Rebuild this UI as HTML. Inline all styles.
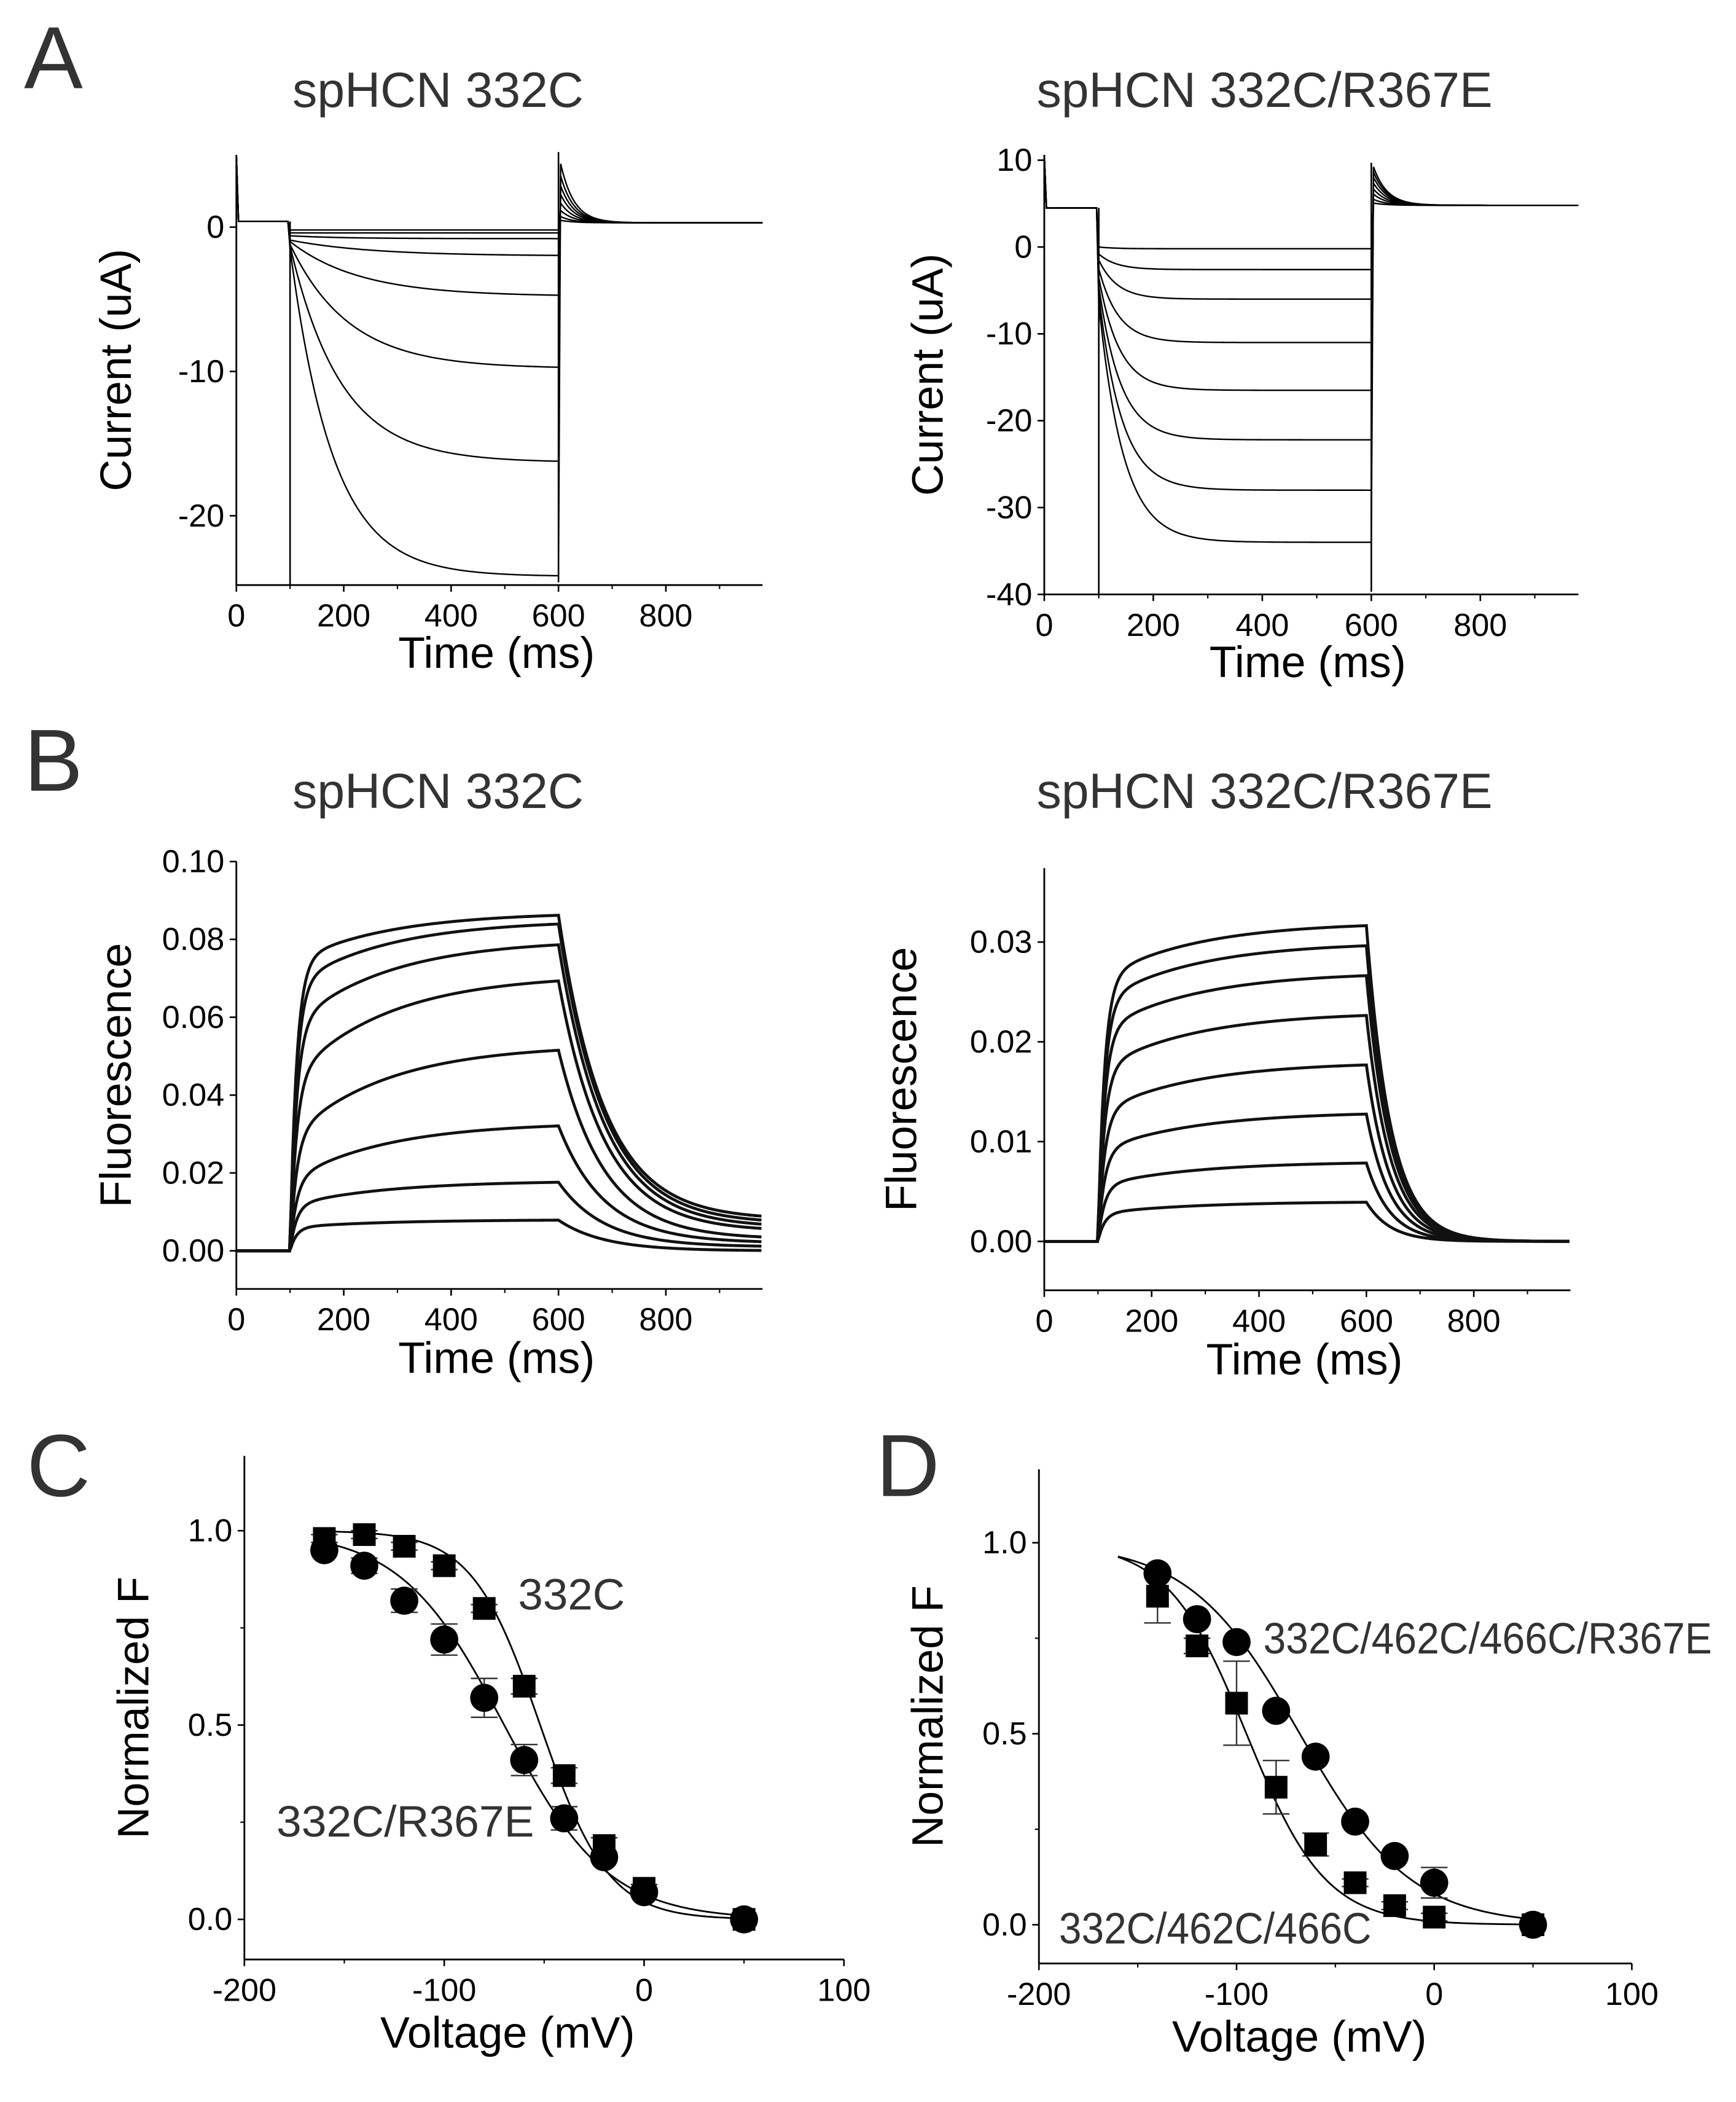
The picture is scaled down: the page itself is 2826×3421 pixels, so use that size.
<!DOCTYPE html>
<html><head><meta charset="utf-8">
<style>
html,body{margin:0;padding:0;background:#fff;}
svg{display:block;}
text{font-family:"Liberation Sans",Arial,sans-serif;}
</style></head>
<body>
<svg id="fig" xmlns="http://www.w3.org/2000/svg" width="2826" height="3421" viewBox="0 0 1300 1573.7">
<rect width="1300" height="1573.7" fill="#fff"/>
</svg>
<script>
// ---------- data ----------
const aL_ss   = [-0.2,-0.4,-0.8,-2.0,-4.8,-9.8,-16.3,-24.2];
const aL_init = [-0.2,-0.4,-0.6,-0.9,-1.0,-1.2,-1.3,-1.5];
const aL_tau  = [80,80,100,150,130,110,95,80];
const aL_tail = [0.2,0.5,1.0,1.6,2.3,3.0,3.8,4.8];
const aR_ss   = [-0.2,-2.6,-6.0,-11.0,-16.5,-22.2,-28.0,-34.0];
const aR_init = [0,-0.8,-1.5,-2.5,-3.5,-4.5,-5.5,-6.5];
const aR_tau  = [30,32,34,36,38,40,42,45];
const aR_tail = [0.3,0.8,1.5,2.2,3.0,3.8,4.5,5.2];
const bL_ss   = [0.008,0.018,0.033,0.053,0.071,0.080,0.085,0.087];
const bL_fast = [0.75,0.65,0.55,0.55,0.62,0.72,0.80,0.85];
const bL_end  = [0.000,0.001,0.002,0.003,0.005,0.006,0.007,0.008];
const bR_ss   = [0.004,0.008,0.013,0.018,0.023,0.027,0.030,0.032];
const bR_fast = [0.7,0.7,0.7,0.72,0.75,0.78,0.8,0.82];
const cV      = [-160,-140,-120,-100,-80,-60,-40,-20,0,50];
const cSq     = [0.98,0.99,0.96,0.91,0.80,0.60,0.37,0.19,0.08,0.0];
const cSqErr  = [0.01,0.01,0.01,0.01,0.01,0.02,0.02,0.02,0.01,0];
const cCi     = [0.95,0.91,0.82,0.72,0.57,0.41,0.26,0.16,0.07,0.0];
const cCiErr  = [0.01,0.02,0.03,0.04,0.05,0.04,0.03,0.01,0.01,0];
const cFitSq  = [-52,17];
const cFitCi  = [-70,26];
const dV      = [-140,-120,-100,-80,-60,-40,-20,0,50];
const dCi     = [0.92,0.80,0.74,0.56,0.44,0.27,0.18,0.11,0.0];
const dCiErr  = [0.01,0.01,0.01,0.01,0.01,0.01,0.01,0.04,0];
const dSq     = [0.86,0.73,0.58,0.36,0.21,0.11,0.05,0.02,0.0];
const dSqErr  = [0.07,0.02,0.11,0.07,0.03,0.01,0.01,0.01,0];
const dFitCi  = [-68,28];
const dFitSq  = [-95,20];
const timeTicks = [0,200,400,600,800];

// ---------- helpers ----------
const NS='http://www.w3.org/2000/svg';
const svg=document.getElementById('fig');
function mk(tag,attrs,parent){const e=document.createElementNS(NS,tag);for(const k in attrs)e.setAttribute(k,attrs[k]);(parent||svg).appendChild(e);return e;}
function txt(s,x,y,size,anchor,fill,parent){const t=mk('text',{x:x,y:y,'font-size':size,'text-anchor':anchor||'middle',fill:fill||'#000'},parent);t.textContent=s;return t;}
function lin(d0,d1,p0,p1){return v=>p0+(v-d0)*(p1-p0)/(d1-d0);}
function axes(g,o){
  const X=o.X,Y=o.Y;
  mk('line',{x1:o.x0,y1:o.yb,x2:o.x1,y2:o.yb,stroke:'#000','stroke-width':1.3},g);
  mk('line',{x1:o.x0,y1:o.yt,x2:o.x0,y2:o.yb,stroke:'#000','stroke-width':1.3},g);
  o.xt.forEach(v=>{mk('line',{x1:X(v),y1:o.yb,x2:X(v),y2:o.yb+5,stroke:'#000','stroke-width':1.2},g);
    const l=txt(String(v),X(v),o.yb+31,24,'middle','#000',g);
    
    });
  (o.xm||[]).forEach(v=>mk('line',{x1:X(v),y1:o.yb,x2:X(v),y2:o.yb+3,stroke:'#000','stroke-width':1},g));
  o.yt_.forEach((v,i)=>{mk('line',{x1:o.x0,y1:Y(v),x2:o.x0-5,y2:Y(v),stroke:'#000','stroke-width':1.2},g);
    const l=txt(o.yl[i],o.x0-9,Y(v)+8,24,'end','#000',g);
    
    });
  (o.ym||[]).forEach(v=>mk('line',{x1:o.x0,y1:Y(v),x2:o.x0-3,y2:Y(v),stroke:'#000','stroke-width':1},g));
  const xt=txt(o.xtitle,o.xtx,o.xty,33,'middle','#000',g);
  
  
  const yt=txt(o.ytitle,0,0,33,'middle','#000',g);
  yt.setAttribute('transform','translate('+o.ytx+','+o.yty+') rotate(-90)');
  
  
}
function pathD(pts){return pts.map((p,i)=>(i?'L':'M')+p[0].toFixed(2)+' '+p[1].toFixed(2)).join('');}

[['A',18,66],['B',18,592],['C',20,1120],['D',656,1120]].forEach(a=>{const t=txt(a[0],a[1],a[2],66,'start','#333');
  
  });
[['spHCN 332C',328,80],['spHCN 332C/R367E',947,80],['spHCN 332C',328,605],['spHCN 332C/R367E',947,605]].forEach((a,i)=>{const t=txt(a[0],a[1],a[2],37,'middle','#333');
  
  });

function currentPanel(name,x0,x1,yt,yb,ymax,ymin,ticks,labels,ss,init,tau,tail,hold,holdEnd,ytx){
  const g=mk('g',{});
  
  
  const X=lin(0,1000,x0,x0+(x1-x0)*1000/980),Y=lin(ymax,ymin,yt,yb);
  axes(g,{X,Y,x0,x1,yt,yb,xt:timeTicks,xm:[100,300,500,700,900],yt_:ticks,yl:labels,
    xtitle:'Time (ms)',xtx:X(400)+34,xty:yb+62,ytitle:'Current (uA)',ytx:ytx,yty:(yt+yb)/2});
  mk('line',{x1:X(100),y1:Y(hold),x2:X(100),y2:yb,stroke:'#000','stroke-width':1.2},g);
  mk('line',{x1:X(600),y1:yb-2,x2:X(600),y2:Y(hold+tail[tail.length-1]),stroke:'#000','stroke-width':1.2},g);
  ss.forEach((s,i)=>{
    const pts=[];
    for(let t=0;t<=980;t+=4){let v;
      if(t<100) v=hold+(t<4?(ymax-hold)*(1-t/4):0);
      else if(t<=600) v=s+(init[i]-s)*Math.exp(-(t-100)/tau[i]);
      else v=holdEnd+tail[i]*Math.exp(-(t-600)/25);
      pts.push([X(t),Y(v)]);}
    const p=mk('path',{d:pathD(pts),fill:'none',stroke:'#000','stroke-width':1.1},g);
    
    
  });
}
currentPanel('panel-a-332c',177,571,116,438,5,-24.8,[0,-10,-20],['0','-10','-20'],aL_ss,aL_init,aL_tau,aL_tail,0.4,0.3,98);
currentPanel('panel-a-332c-r367e',782,1182,116,445,10.6,-40,[10,0,-10,-20,-30,-40],['10','0','-10','-20','-30','-40'],aR_ss,aR_init,aR_tau,aR_tail,4.5,4.8,706);

function fluoPanel(name,x0,x1,yt,yb,ymax,ymin,ticks,labels,ss,fast,end,tauOff,ytx){
  const g=mk('g',{});
  
  
  const X=lin(0,1000,x0,x0+(x1-x0)*1000/980),Y=lin(ymax,ymin,yt,yb);
  axes(g,{X,Y,x0,x1,yt,yb,xt:timeTicks,xm:[100,300,500,700,900],yt_:ticks,yl:labels,ym:[],
    xtitle:'Time (ms)',xtx:X(400)+34,xty:yb+63,ytitle:'Fluorescence',ytx:ytx,yty:(yt+yb)/2});
  ss.forEach((s,i)=>{
    const pts=[];
    for(let t=0;t<=980;t+=3){let v;
      if(t<100) v=0;
      else if(t<=600) v=s*(1-fast[i]*Math.exp(-(t-100)/12)-(1-fast[i])*Math.exp(-(t-100)/180));
      else {const e=end?end[i]:0;const s6=s*(1-(1-fast[i])*Math.exp(-500/180));v=e+(s6-e)*Math.exp(-(t-600)/tauOff);}
      pts.push([X(t),Y(v)]);}
    const p=mk('path',{d:pathD(pts),fill:'none',stroke:'#111','stroke-width':2.2},g);
    
    
  });
}
fluoPanel('panel-b-332c',177,571,645,965,0.1,-0.0098,[0.1,0.08,0.06,0.04,0.02,0],['0.10','0.08','0.06','0.04','0.02','0.00'],bL_ss,bL_fast,bL_end,85,98);
fluoPanel('panel-b-332c-r367e',782,1176,650,966,0.0374,-0.0049,[0.03,0.02,0.01,0],['0.03','0.02','0.01','0.00'],bR_ss,bR_fast,null,45,686);

function fvPanel(name,x0,x1,yt,yb,y1px,y0px,V,sq,sqE,ci,ciE,fitSq,fitCi,vStart,labels){
  const g=mk('g',{});
  
  
  const X=lin(-200,100,x0,x1),Y=lin(1,0,y1px,y0px);
  axes(g,{X,Y,x0,x1,yt,yb,xt:[-200,-100,0,100],xm:[-150,-50,50],yt_:[1,0.5,0],yl:['1.0','0.5','0.0'],ym:[0.75,0.25],
    xtitle:'Voltage (mV)',xtx:X(-75)+10,xty:yb+66,ytitle:'Normalized F',ytx:x0-72,yty:(yt+yb)/2});
  [[fitSq,'fit-curve-squares'],[fitCi,'fit-curve-circles']].forEach(f=>{
    const pts=[];for(let v=vStart;v<=50;v+=1)pts.push([X(v),Y(1/(1+Math.exp((v-f[0][0])/f[0][1])))]);
    const p=mk('path',{d:pathD(pts),fill:'none',stroke:'#000','stroke-width':1.3},g);
    
    });
  V.forEach((v,i)=>{
    [[sq[i],sqE[i]],[ci[i],ciE[i]]].forEach(d=>{if(d[1]>0){
      mk('line',{x1:X(v),y1:Y(d[0]+d[1]),x2:X(v),y2:Y(d[0]-d[1]),stroke:'#333','stroke-width':1.1},g);
      mk('line',{x1:X(v)-10,y1:Y(d[0]+d[1]),x2:X(v)+10,y2:Y(d[0]+d[1]),stroke:'#333','stroke-width':1.1},g);
      mk('line',{x1:X(v)-10,y1:Y(d[0]-d[1]),x2:X(v)+10,y2:Y(d[0]-d[1]),stroke:'#333','stroke-width':1.1},g);}});
    const r=mk('rect',{x:X(v)-8.5,y:Y(sq[i])-8.5,width:17,height:17,fill:'#000'},g);
    
    
    const c=mk('circle',{cx:X(v),cy:Y(ci[i]),r:10.5,fill:'#000'},g);
    
    
  });
  labels.forEach(l=>{const t=txt(l[0],l[1],l[2],33,'start','#333',g);
    t.setAttribute('textLength',l[3]);
    t.setAttribute('lengthAdjust','spacingAndGlyphs');
    
    });
}
fvPanel('panel-c',183,632,1090,1467,1146,1437,cV,cSq,cSqErr,cCi,cCiErr,cFitSq,cFitCi,-160,
  [['332C',388,1205,80],['332C/R367E',207,1375,193]]);
fvPanel('panel-d',778,1222,1100,1470,1155,1441,dV,dSq,dSqErr,dCi,dCiErr,dFitCi===null?dFitSq:dFitSq,dFitCi,-160,
  [['332C/462C/466C/R367E',946,1238,336],['332C/462C/466C',793,1455,234]]);
</script>
</body></html>
